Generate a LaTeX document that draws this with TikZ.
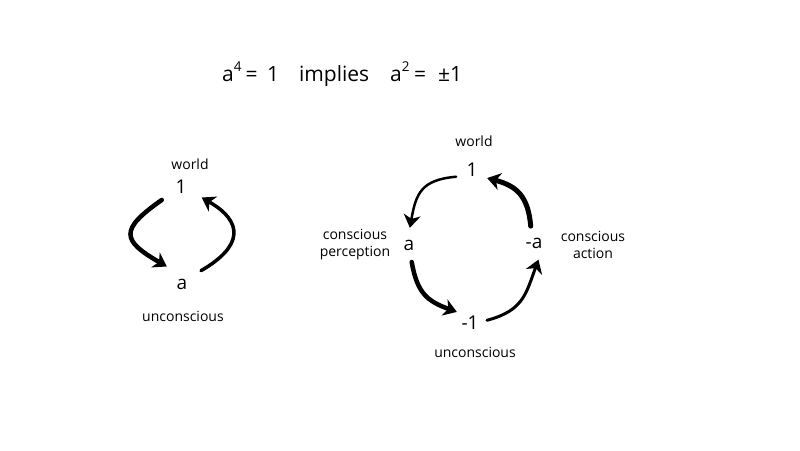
\documentclass[tikz,border=0pt]{standalone}
\usepackage{fontspec}
\setmainfont{Open Sans}
\usetikzlibrary{arrows.meta}
\newcommand{\supr}[1]{\raisebox{10pt}{\fontsize{13.5}{14}\selectfont #1}}
\tikzset{
  val/.style={circle,inner sep=0pt,font=\fontsize{19}{23}\selectfont},
  lbl/.style={font=\fontsize{14}{17}\selectfont,align=center},
  brush/.style={line width=#1,line cap=round,-{Stealth[length=13pt,width=17pt,inset=4pt]}},
  brush/.default=3.5pt
}
\begin{document}
\begin{tikzpicture}[x=1pt,y=1pt]
\useasboundingbox (0,0) rectangle (800,450);
\node[anchor=base west,inner sep=0pt,font=\fontsize{21}{25}\selectfont] (eq) at (222,368) {a\supr{4}\hspace{4pt}=\hspace{9.5pt}1\hspace{20pt}implies\hspace{21pt}a\supr{2}\hspace{4.5pt}=\hspace{12pt}±1};
\node[val,minimum size=46pt] (one) at (181,263) {1};
\node[val,minimum size=46pt] (a) at (182,166) {a};
\node[lbl] (world) at (190,286) {world};
\node[lbl] (unc) at (183,134) {unconscious};
\draw[brush=4.5pt] (one.214) to[out=215,in=150,looseness=2] (a.131);
\draw[brush=3.5pt] (a.35) to[out=30,in=-30,looseness=1.7] (one.333);
\node[val,minimum size=34pt] (rone) at (472,280) {1};
\node[val,minimum size=34pt] (ra) at (409,205) {a};
\node[val,minimum size=34pt] (rma) at (534,207) {-a};
\node[val,minimum size=34pt] (rmone) at (470,127) {-1};
\node[lbl] (rworld) at (474,309) {world};
\node[lbl] (perc) at (355,205.5) {conscious\\perception};
\node[lbl] (act) at (593,205.5) {conscious\\action};
\node[lbl] (runc) at (475,98) {unconscious};
\draw[brush=2.5pt] (rone.203) to[out=185,in=80,looseness=1.3] (ra.87);
\draw[brush=4.5pt] (ra.279) to[out=-80,in=160,looseness=1.2] (rmone.140);
\draw[brush=3pt] (rmone.9) to[out=15,in=250,looseness=1.2] (rma.285);
\draw[brush=5pt] (rma.101) to[out=95,in=-15,looseness=1.2] (rone.332);
\end{tikzpicture}
\end{document}
